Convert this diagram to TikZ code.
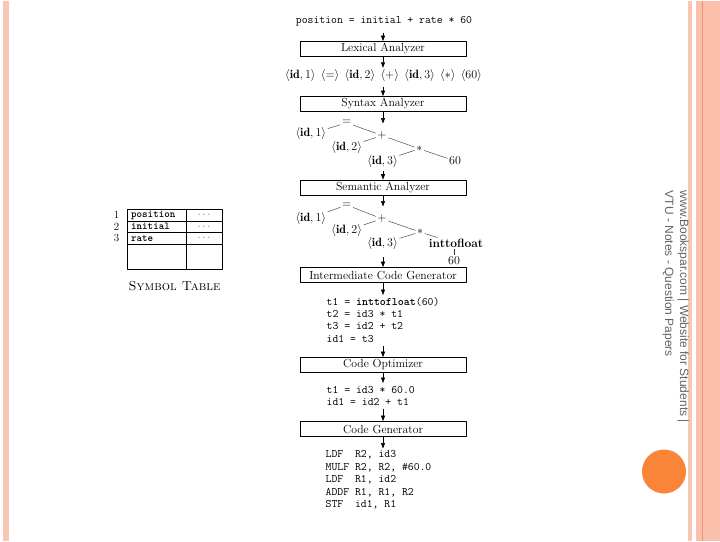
\documentclass[tikz,border=0pt]{standalone}
\usepackage{fontspec}
\newfontfamily\wmfont{Liberation Sans}
\usetikzlibrary{arrows.meta}

\definecolor{stripe}{RGB}{248,198,180}
\definecolor{stripedeep}{RGB}{251,192,172}
\definecolor{stripeline}{RGB}{236,150,110}
\definecolor{dotorange}{RGB}{249,134,56}
\definecolor{wmgray}{RGB}{100,100,100}

\begin{document}
\begin{tikzpicture}[x=1pt, y=-1pt, line join=round,
  phase/.style={draw, line width=0.7pt, minimum width=166pt, minimum height=15pt,
    inner sep=0pt, font=\fontsize{11.7}{13}\selectfont},
  code/.style={anchor=north west, align=left, inner sep=0pt,
    font=\ttfamily\fontsize{11.4}{12.4}\selectfont},
  leaf/.style={inner sep=1.5pt, font=\fontsize{12}{14}\selectfont},
  tree/.style={line width=0.45pt, black!75}]
  \def\arr{-{Triangle[width=4pt,length=5.5pt]}}

  % ════ 页面底 / 两侧色条 / 橙点 ════
  \fill[white] (0,0) rectangle (720,540);
  \fill[stripe] (3,0) rectangle (9,540);
  \fill[stripe] (688,0) rectangle (692,540);
  \fill[stripedeep] (696,0) rectangle (720,540);
  \draw[stripeline, line width=1pt] (702.5,0) -- (702.5,540);
  \fill[dotorange] (664,471) circle[radius=22pt];

  % ════ 竖排水印 ════
  \node[rotate=-90, anchor=north west, align=left, inner sep=0pt, text=wmgray,
    font=\wmfont\fontsize{12}{15}\selectfont] (wm) at (689,190)
    {www.Bookspar.com | Website for Students |\\VTU - Notes - Question Papers};

  % ════ 主流程 ════
  \node[inner sep=0pt, font=\ttfamily\fontsize{11.4}{12.4}\selectfont] (src) at (384,21)
    {position = initial + rate * 60};
  \node[phase] (lex) at (383,48.5) {Lexical Analyzer};
  \node[leaf] (tok) at (383.5,75)
    {$\langle\mathbf{id},1\rangle\;\,\langle{=}\rangle\;\,\langle\mathbf{id},2\rangle\;\,\langle{+}\rangle\;\,
      \langle\mathbf{id},3\rangle\;\,\langle{*}\rangle\;\,\langle60\rangle$};
  \node[phase] (syn) at (383,103.5) {Syntax Analyzer};

  % 语法树
  \coordinate (t1in) at (383,123);
  \node[leaf] (a1eq)   at (346.7,122.3) {${=}$};
  \node[leaf] (a1id1)  at (310.8,133.3) {$\langle\mathbf{id},1\rangle$};
  \node[leaf] (a1plus) at (382,135)    {${+}$};
  \node[leaf] (a1id2)  at (346.7,146.5) {$\langle\mathbf{id},2\rangle$};
  \node[leaf] (a1mul)  at (419.3,148.3) {${*}$};
  \node[leaf] (a1id3)  at (382.5,160.5) {$\langle\mathbf{id},3\rangle$};
  \node[leaf] (a1num)  at (455,160.5)   {60};
  \draw[tree] (a1eq) -- (a1id1);
  \draw[tree] (a1eq) -- (a1plus);
  \draw[tree] (a1plus) -- (a1id2);
  \draw[tree] (a1plus) -- (a1mul);
  \draw[tree] (a1mul) -- (a1id3);
  \draw[tree] (a1mul) -- (a1num);

  \node[phase] (sem) at (383,187) {Semantic Analyzer};

  % 带类型转换的语法树
  \coordinate (t2in) at (383,206);
  \node[leaf] (a2eq)   at (346.7,204.5) {${=}$};
  \node[leaf] (a2id1)  at (310.8,217.5) {$\langle\mathbf{id},1\rangle$};
  \node[leaf] (a2plus) at (382,218.3)  {${+}$};
  \node[leaf] (a2id2)  at (346.7,230)   {$\langle\mathbf{id},2\rangle$};
  \node[leaf] (a2mul)  at (420,231.5)   {${*}$};
  \node[leaf] (a2id3)  at (382.5,243)   {$\langle\mathbf{id},3\rangle$};
  \node[leaf] (a2cast) at (456,243)     {\textbf{inttofloat}};
  \node[leaf] (a2num)  at (454,260.5)   {60};
  \draw[tree] (a2eq) -- (a2id1);
  \draw[tree] (a2eq) -- (a2plus);
  \draw[tree] (a2plus) -- (a2id2);
  \draw[tree] (a2plus) -- (a2mul);
  \draw[tree] (a2mul) -- (a2id3);
  \draw[tree] (a2mul) -- (a2cast);
  \draw[tree] (a2cast.south -| a2num) -- (a2num);

  \node[phase] (icg) at (383,274.5) {Intermediate Code Generator};
  \node[code] (tac) at (326.5,296.5)
    {t1 = \textbf{inttofloat}(60)\\t2 = id3 * t1\\t3 = id2 + t2\\id1 = t3};
  \node[phase] (opt) at (383,364.5) {Code Optimizer};
  \node[code] (opc) at (326.5,385.5)
    {t1 = id3 * 60.0\\id1 = id2 + t1};
  \node[phase] (gen) at (383,428.5) {Code Generator};
  \node[code] (asm) at (325.5,450)
    {LDF~~R2, id3\\MULF R2, R2, \#60.0\\LDF~~R1, id2\\ADDF R1, R1, R2\\STF~~id1, R1};

  % ════ 流程箭头 ════
  \draw[\arr, line width=0.6pt, shorten <=6pt] (src.south -| lex.north) -- (lex.north);
  \draw[\arr, line width=0.6pt] (lex.south) -- (tok.north -| lex.south);
  \draw[\arr, line width=0.6pt, shorten <=4pt] (tok.south -| syn.north) -- (syn.north);
  \draw[\arr, line width=0.6pt] (syn.south) -- (t1in);
  \draw[\arr, line width=0.6pt, shorten <=2pt] (a1id3.south -| sem.north) -- (sem.north);
  \draw[\arr, line width=0.6pt] (sem.south) -- (t2in);
  \draw[\arr, line width=0.6pt, shorten <=6pt] (a2id3.south -| icg.north) -- (icg.north);
  \draw[\arr, line width=0.6pt, shorten >=2pt] (icg.south) -- (tac.north -| icg.south);
  \draw[\arr, line width=0.6pt, shorten <=3pt] (tac.south -| opt.north) -- (opt.north);
  \draw[\arr, line width=0.6pt, shorten >=3pt] (opt.south) -- (opc.north -| opt.south);
  \draw[\arr, line width=0.6pt, shorten <=3pt] (opc.south -| gen.north) -- (gen.north);
  \draw[\arr, line width=0.6pt, shorten >=2pt] (gen.south) -- (asm.north -| gen.south);

  % ════ 符号表 ════
  \draw[line width=0.6pt] (127,209) rectangle (222,268.5);
  \draw[line width=0.6pt] (186,209) -- (186,268.5);
  \foreach \y in {220.5,232,243.5} \draw[line width=0.6pt] (127,\y) -- (222,\y);
  \foreach \n/\name/\y in {1/position/214.7, 2/initial/226.2, 3/rate/237.7}{%
    \node[anchor=west, inner sep=0pt, font=\ttfamily\bfseries\fontsize{10.5}{12}\selectfont] (symname\n) at (131,\y) {\name};
    \node[inner sep=0pt, font=\fontsize{11}{13}\selectfont] (symnum\n) at (116.5,\y) {\n};
    \node[inner sep=0pt, text=black!60, font=\fontsize{11}{13}\selectfont] (symval\n) at (204,\y) {$\cdots$};}
  \node[inner sep=0pt, font=\fontsize{13}{15}\selectfont] (symtab) at (174.5,285.5) {\textsc{Symbol Table}};

  % 钉死画布
  \path[use as bounding box] (0,0) rectangle (720,540);
\end{tikzpicture}
\end{document}
